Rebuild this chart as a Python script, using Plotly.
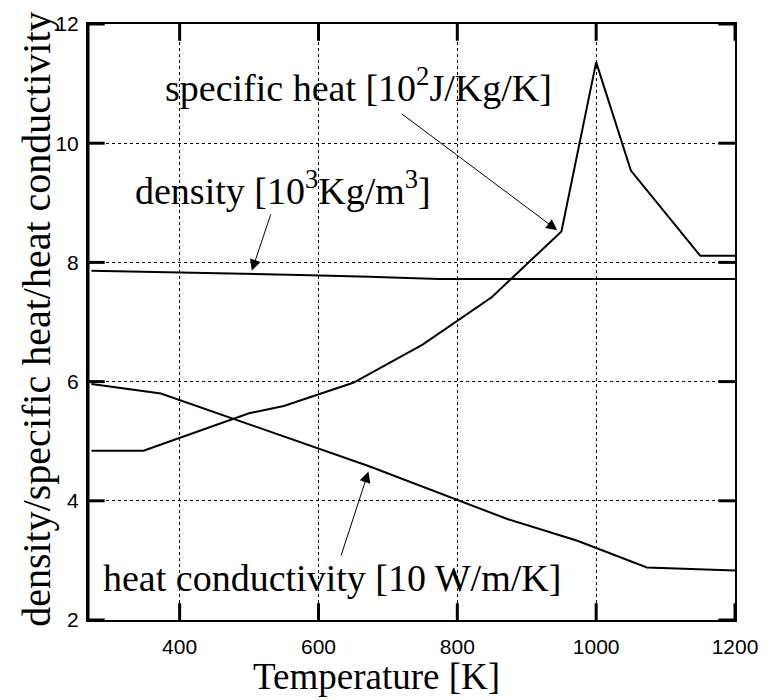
import plotly.graph_objects as go

# Temperature grid of each property table [K]
density_T = [273, 373, 473, 573, 673, 773, 1200]
density_val = [7.86, 7.84, 7.82, 7.79, 7.76, 7.72, 7.72]          # [10^3 Kg/m^3]

cp_T = [273, 348, 500, 550, 650, 750, 850, 950, 1000, 1050, 1150, 1200]
cp_val = [4.84, 4.84, 5.47, 5.59, 5.98, 6.62, 7.42, 8.52, 11.36, 9.54, 8.11, 8.11]  # [10^2 J/Kg/K]

k_T = [273, 373, 673, 873, 973, 1073, 1200]
k_val = [5.96, 5.80, 4.58, 3.69, 3.33, 2.88, 2.83]                # [10 W/m/K]

x_ticks = [400, 600, 800, 1000, 1200]
y_ticks = [2, 4, 6, 8, 10, 12]

X_RANGE = [268, 1200]
Y_RANGE = [2, 12]
WIDTH, HEIGHT = 770, 700
MARGIN = dict(l=88, r=23, t=17, b=80)

SERIF = "Liberation Serif, Times New Roman, serif"
SANS = "Liberation Sans, Arial, sans-serif"
line_style = dict(color="black", width=2)

fig = go.Figure()
fig.add_trace(go.Scatter(x=density_T, y=density_val, mode="lines", line=line_style,
                         name="density"))
fig.add_trace(go.Scatter(x=cp_T, y=cp_val, mode="lines", line=line_style,
                         name="specific heat"))
fig.add_trace(go.Scatter(x=k_T, y=k_val, mode="lines", line=line_style,
                         name="heat conductivity"))

# inward tick marks on all four sides, sized in pixels and converted to axis units
TICK_PX = 17
plot_w = WIDTH - MARGIN["l"] - MARGIN["r"]
plot_h = HEIGHT - MARGIN["t"] - MARGIN["b"]
dx = TICK_PX * (X_RANGE[1] - X_RANGE[0]) / plot_w
dy = TICK_PX * (Y_RANGE[1] - Y_RANGE[0]) / plot_h

tx, ty = [], []
for t in x_ticks:
    tx += [t, t, None, t, t, None]
    ty += [Y_RANGE[0], Y_RANGE[0] + dy, None, Y_RANGE[1], Y_RANGE[1] - dy, None]
for t in y_ticks:
    tx += [X_RANGE[0], X_RANGE[0] + dx, None, X_RANGE[1], X_RANGE[1] - dx, None]
    ty += [t, t, None, t, t, None]
fig.add_trace(go.Scatter(x=tx, y=ty, mode="lines", line=dict(color="black", width=3),
                         hoverinfo="skip", name="ticks"))

axis_common = dict(
    ticks="", showline=True, linewidth=2, linecolor="black", mirror=True,
    showgrid=True, gridcolor="black", griddash="dot", gridwidth=1,
    zeroline=False, ticklabeloverflow="allow",
)

fig.update_layout(
    width=WIDTH, height=HEIGHT,
    margin=MARGIN,
    paper_bgcolor="white", plot_bgcolor="white",
    showlegend=False,
    xaxis=dict(range=X_RANGE, tickvals=x_ticks, ticklabelstandoff=7,
               tickfont=dict(family=SANS, size=21, color="black"), **axis_common),
    yaxis=dict(range=Y_RANGE, tickvals=y_ticks, ticklabelstandoff=3,
               tickfont=dict(family=SANS, size=21, color="black"), **axis_common),
)

# heavier left spine
fig.add_shape(type="line", xref="paper", yref="paper", x0=0, x1=0, y0=0, y1=1,
              line=dict(color="black", width=3))

# axis titles
fig.add_annotation(text="Temperature [K]", xref="paper", yref="paper",
                   x=0.4453, y=-0.1327, xanchor="center", yanchor="bottom",
                   showarrow=False, font=dict(family=SERIF, size=37, color="black"))
fig.add_annotation(text="density/specific heat/heat conductivity", xref="paper", yref="paper",
                   x=-0.08, y=0.504, xanchor="center", yanchor="middle", textangle=-90,
                   showarrow=False, font=dict(family=SERIF, size=40, color="black"))

# curve labels
label_font = dict(family=SERIF, size=38, color="black")
fig.add_annotation(text="specific heat [10<sup>2</sup>J/Kg/K]", x=375.7, y=10.97,
                   xanchor="left", yanchor="middle", showarrow=False, font=label_font)
fig.add_annotation(text="density [10<sup>3</sup>Kg/m<sup>3</sup>]", x=333.2, y=9.25,
                   xanchor="left", yanchor="middle", showarrow=False, font=label_font)
fig.add_annotation(text="heat conductivity [10 W/m/K]", x=286.4, y=2.71,
                   xanchor="left", yanchor="middle", showarrow=False, font=label_font)

# pointer arrows: tail (ax, ay) -> head (x, y), in data units
arrows = [
    (718, 10.51, 944, 8.54),
    (532, 8.83, 504, 7.86),
    (632, 3.06, 672, 4.49),
]
for ax, ay, hx, hy in arrows:
    fig.add_annotation(text="", x=hx, y=hy, ax=ax, ay=ay, axref="x", ayref="y",
                       showarrow=True, arrowhead=2, arrowsize=2.2, arrowwidth=1,
                       arrowcolor="black", standoff=0)

fig.write_html("out.html")
